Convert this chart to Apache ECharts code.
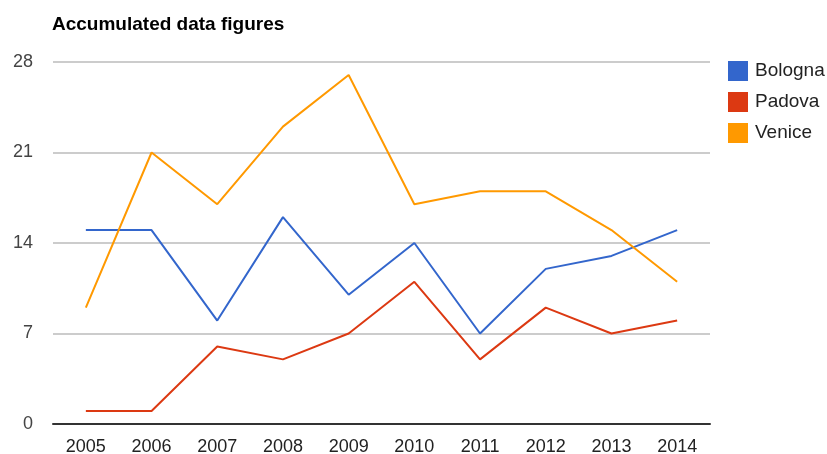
<!DOCTYPE html>
<html>
<head>
<meta charset="utf-8">
<script src="https://cdn.jsdelivr.net/npm/echarts@6/dist/echarts.min.js"></script>
<style>
html,body{margin:0;padding:0;background:#fff;}
#chart{width:827px;height:454px;}
</style>
</head>
<body>
<div id="chart"></div>
<script>
var years = ['2005', '2006', '2007', '2008', '2009', '2010', '2011', '2012', '2013', '2014'];
var bologna = [15, 15, 8, 16, 10, 14, 7, 12, 13, 15];
var padova = [1, 1, 6, 5, 7, 11, 5, 9, 7, 8];
var venice = [9, 21, 17, 23, 27, 17, 18, 18, 15, 11];

var chart = echarts.init(document.getElementById('chart'));
var font = 'Liberation Sans, Arial, sans-serif';

function line(name, data, color) {
    return {
        name: name,
        type: 'line',
        data: data,
        symbol: 'none',
        lineStyle: {width: 2, color: color},
        itemStyle: {color: color}
    };
}

var option = {
    animation: false,
    title: {
        text: 'Accumulated data figures',
        left: 52,
        top: 15,
        padding: 0,
        textStyle: {fontFamily: font, fontSize: 19, fontWeight: 'bold', color: '#000'}
    },
    legend: {
        orient: 'vertical',
        left: 728,
        top: 61,
        padding: 0,
        itemWidth: 20,
        itemHeight: 20,
        itemGap: 11,
        icon: 'rect',
        textStyle: {fontFamily: font, fontSize: 19, color: '#222', padding: [0, 0, 0, 2]},
        data: ['Bologna', 'Padova', 'Venice']
    },
    grid: {left: 53, right: 117, top: 62, bottom: 30, containLabel: false, outerBoundsMode: 'none'},
    xAxis: {
        type: 'category',
        data: years,
        boundaryGap: true,
        axisLine: {lineStyle: {color: '#333', width: 2}},
        axisTick: {show: false},
        axisLabel: {fontFamily: font, fontSize: 18, color: '#222', margin: 14}
    },
    yAxis: {
        type: 'value',
        min: 0,
        max: 28,
        interval: 7,
        axisLine: {show: false},
        axisTick: {show: false},
        axisLabel: {fontFamily: font, fontSize: 18, color: '#444', margin: 20},
        splitLine: {lineStyle: {color: '#cccccc', width: 2}}
    },
    series: [
        line('Bologna', bologna, '#3366cc'),
        line('Padova', padova, '#dc3912'),
        line('Venice', venice, '#ff9900')
    ]
};
chart.setOption(option);
</script>
</body>
</html>
